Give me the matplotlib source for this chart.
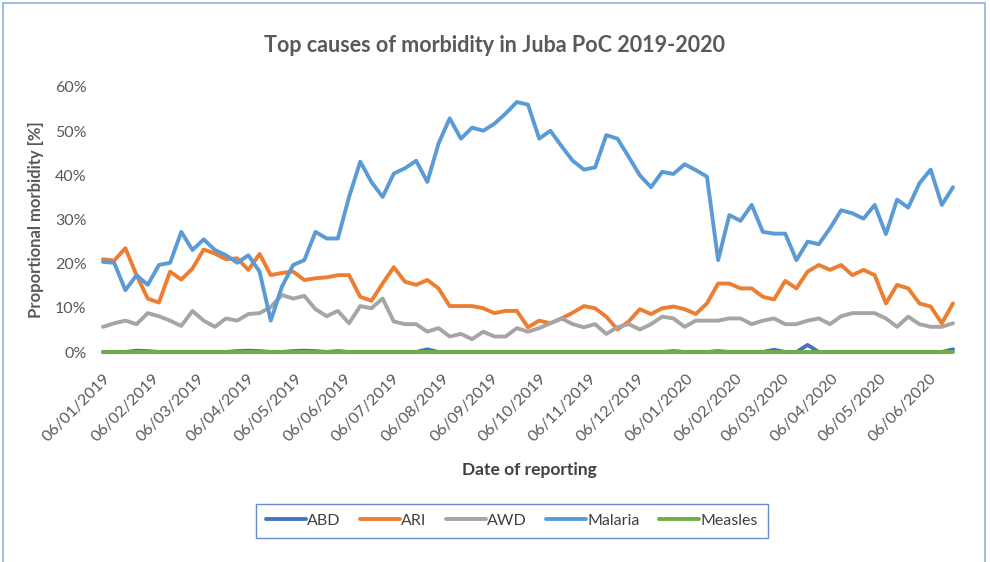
import matplotlib
matplotlib.use('Agg')
import matplotlib.pyplot as plt
import matplotlib.dates as mdates
import pandas as pd
from matplotlib.patches import Rectangle
from matplotlib.ticker import FuncFormatter

plt.rcParams['font.family'] = ['Lato', 'DejaVu Sans']

# weekly reporting dates
dates = pd.date_range('2019-01-06', periods=77, freq='7D')

malaria = [20.4, 20.2, 14.0, 17.4, 15.2, 19.7, 20.2, 27.2, 23.1, 25.5,
           23.1, 21.9, 20.2, 21.9, 18.2, 7.1, 14.8, 19.7, 20.8, 27.2,
           25.7, 25.7, 35.1, 43.1, 38.5, 35.1, 40.4, 41.6, 43.3, 38.5,
           47.2, 52.9, 48.3, 50.8, 50.1, 51.7, 54.0, 56.6, 56.0, 48.3,
           50.1, 46.6, 43.3, 41.3, 41.8, 49.1, 48.3, 44.2, 40.0, 37.3,
           40.8, 40.3, 42.5, 41.2, 39.7, 20.8, 31.0, 29.7, 33.3, 27.2,
           26.8, 26.8, 20.8, 25.0, 24.4, 28.0, 32.1, 31.4, 30.2, 33.3,
           26.7, 34.5, 32.7, 38.2, 41.3, 33.3, 37.3]

ari = [21.0, 20.7, 23.5, 17.4, 12.1, 11.2, 18.2, 16.4, 18.9, 23.2,
       22.3, 21.0, 21.2, 18.6, 22.2, 17.4, 17.9, 18.2, 16.3, 16.7,
       16.9, 17.4, 17.4, 12.5, 11.6, 15.5, 19.2, 15.9, 15.2, 16.3,
       14.4, 10.4, 10.4, 10.4, 9.9, 8.8, 9.3, 9.3, 5.6, 7.1,
       6.5, 7.6, 8.9, 10.4, 9.9, 8.0, 5.1, 6.9, 9.7, 8.6,
       9.9, 10.3, 9.7, 8.6, 11.0, 15.5, 15.5, 14.4, 14.4, 12.5,
       11.9, 16.1, 14.4, 18.2, 19.7, 18.6, 19.7, 17.4, 18.6, 17.4,
       11.0, 15.2, 14.4, 11.0, 10.3, 6.5, 11.0]

awd = [5.7, 6.5, 7.1, 6.3, 8.8, 8.1, 7.1, 5.9, 9.3, 7.1,
       5.7, 7.6, 7.1, 8.6, 8.8, 10.2, 12.9, 12.1, 12.7, 9.7,
       8.1, 9.3, 6.5, 10.4, 9.9, 12.1, 6.9, 6.3, 6.3, 4.6,
       5.4, 3.5, 4.1, 2.9, 4.6, 3.5, 3.5, 5.4, 4.6, 5.4,
       6.5, 7.6, 6.3, 5.6, 6.3, 4.1, 5.6, 6.3, 5.1, 6.3,
       8.0, 7.6, 5.7, 7.1, 7.1, 7.1, 7.6, 7.6, 6.3, 7.1,
       7.6, 6.3, 6.3, 7.1, 7.6, 6.3, 8.1, 8.8, 8.8, 8.8,
       7.6, 5.7, 8.0, 6.3, 5.7, 5.7, 6.5]

abd = [0, 0, 0, 0.3, 0.2, 0, 0, 0, 0, 0,
       0, 0, 0.2, 0.3, 0.2, 0, 0, 0.2, 0.3, 0.2,
       0, 0.2, 0, 0, 0, 0, 0, 0, 0, 0.6,
       0, 0, 0, 0, 0, 0, 0, 0, 0, 0,
       0, 0, 0, 0, 0, 0, 0, 0, 0, 0,
       0, 0.2, 0, 0, 0, 0.2, 0, 0, 0, 0,
       0.5, 0, 0, 1.6, 0, 0, 0, 0, 0, 0,
       0, 0, 0, 0, 0, 0, 0.6]

measles = [0.0] * 77

series = [('ABD', abd, '#4472C4'),
          ('ARI', ari, '#ED7D31'),
          ('AWD', awd, '#A5A5A5'),
          ('Malaria', malaria, '#5B9BD5'),
          ('Measles', measles, '#70AD47')]

fig = plt.figure(figsize=(9.9, 5.62), dpi=100)
ax = fig.add_axes([103 / 990, 210 / 562, 850 / 990, 265 / 562])

for name, vals, col in series:
    ax.plot(dates, vals, color=col, lw=2.8, label=name, clip_on=False,
            solid_capstyle='round', solid_joinstyle='round')

ax.set_xlim(dates[0], dates[-1])
ax.set_ylim(0, 60)
ax.set_yticks(range(0, 61, 10))
ax.yaxis.set_major_formatter(FuncFormatter(lambda v, p: f'{int(v)}%'))

# month ticks on the 6th
ticks = pd.date_range('2019-01-01', '2020-06-01', freq='MS') + pd.Timedelta(days=5)
ax.set_xticks(ticks)
ax.xaxis.set_major_formatter(mdates.DateFormatter('%d/%m/%Y'))
for lab in ax.get_xticklabels():
    lab.set_rotation(45)
    lab.set_ha('right')
    lab.set_va('top')
    lab.set_rotation_mode('anchor')

ax.tick_params(axis='both', length=0, colors='#595959', labelsize=11.5)
ax.tick_params(axis='x', pad=14)
ax.tick_params(axis='y', pad=12)
for s in ax.spines.values():
    s.set_visible(False)

ax.set_ylabel('Proportional morbidity [%]', fontsize=12, fontweight='bold',
              color='#595959', labelpad=8)
fig.text(0.535, 1 - 470 / 562, 'Date of reporting', fontsize=12.5,
         fontweight='bold', color='#404040', ha='center', va='center')
fig.text(0.5, 1 - 45 / 562, 'Top causes of morbidity in Juba PoC 2019-2020',
         fontsize=15.5, fontweight='bold', color='#595959', ha='center', va='center')

leg = fig.legend(loc='center', bbox_to_anchor=(512 / 990, 1 - 521 / 562), ncol=5,
                 frameon=True, fancybox=False, fontsize=11.5, handlelength=2.5,
                 columnspacing=1.2, handletextpad=0.1, borderpad=0.6)
leg.get_frame().set_edgecolor('#4472C4')
leg.get_frame().set_linewidth(1.0)
for t in leg.get_texts():
    t.set_color('#404040')

fig.patches.append(Rectangle((3 / 990, -0.01), 982 / 990, 1 - 3 / 562 + 0.01,
                             transform=fig.transFigure, fill=False,
                             edgecolor='#8FB0DD', lw=1.2))

fig.savefig('out.png', dpi=100)
